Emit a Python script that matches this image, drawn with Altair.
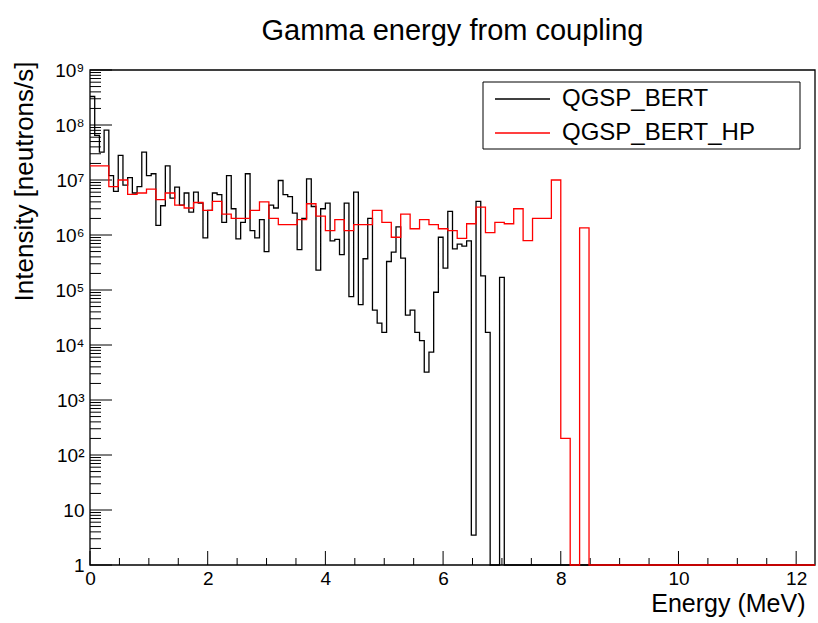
import altair as alt
import pandas as pd

# ---------------- data ----------------
x_range = [0.0, 12.32]
series_names = ["QGSP_BERT", "QGSP_BERT_HP"]
series_colors = ["#000000", "#ff0000"]

bert_bin_width = 0.08
hp_bin_width = 0.16

# QGSP_BERT, bins of 0.08 MeV starting at 0 (remaining bins up to 12.32 MeV are empty)
bert_values = [
    3.3e8, 6.5e7, 3.2e7, 8.1e7, 1.2e7, 6.2e6, 2.8e7, 8.1e6, 1.1e7, 5.8e6,
    7.6e6, 3.2e7, 1.2e7, 1.3e7, 1.5e6, 3.4e6, 1.8e7, 4.7e6, 7.4e6, 3.5e6,
    5.8e6, 2.6e6, 6.0e6, 3.8e6, 8.9e5, 2.8e6, 5.8e6, 5.4e6, 1.7e6, 1.2e7,
    3.0e6, 8.5e5, 1.7e6, 1.3e7, 1.2e6, 8.9e5, 1.9e6, 5.0e5, 3.5e6, 3.1e6,
    9.8e6, 5.4e6, 5.0e6, 2.5e6, 5.4e5, 2.0e6, 1.05e7, 3.3e6, 2.3e5, 3.0e6,
    3.8e6, 7.8e5, 8.3e5, 4.4e5, 3.8e6, 7.6e4, 6.0e6, 5.4e4, 3.7e5, 2.0e6,
    4.3e4, 2.5e4, 1.7e4, 3.3e5, 4.9e5, 1.4e6, 3.8e5, 3.5e4, 4.3e4, 1.7e4,
    1.2e4, 3.2e3, 7.4e3, 9.1e4, 9.1e5, 2.5e5, 2.7e6, 5.6e5, 6.8e5, 6.3e5,
    7.8e5, 3.5, 4.1e6, 1.8e5, 1.7e4, 0, 0, 1.7e5,
]

# QGSP_BERT_HP, bins of 0.16 MeV starting at 0
hp_values = [
    1.8e7, 1.8e7, 7.6e6, 1.0e7, 5.5e6, 5.8e6, 6.8e6, 4.4e6, 5.8e6, 3.5e6,
    3.1e6, 3.9e6, 2.8e6, 4.1e6, 2.4e6, 2.0e6, 2.0e6, 2.8e6, 4.0e6, 2.0e6,
    1.55e6, 1.55e6, 1.9e6, 3.7e6, 2.2e6, 1.2e6, 1.9e6, 1.2e6, 1.55e6, 1.55e6,
    2.8e6, 1.7e6, 9.1e5, 2.4e6, 1.3e6, 1.9e6, 1.55e6, 1.3e6, 1.2e6, 8.7e5,
    1.6e6, 3.2e6, 1.1e6, 1.7e6, 1.6e6, 3.0e6, 7.9e5, 2.0e6, 2.0e6, 1.0e7,
    200, 0, 1.35e6,
]

y_decades = [1, 10, 100, 1e3, 1e4, 1e5, 1e6, 1e7, 1e8, 1e9]
y_minor = [m * d for d in y_decades[:-1] for m in range(2, 10)]
x_major = [0, 2, 4, 6, 8, 10, 12]
x_minor = [i * 0.5 for i in range(0, 25) if (i * 0.5) not in x_major]

title_text = "Gamma energy from coupling"
x_title = "Energy (MeV)"
y_title = "Intensity [neutrons/s]"

# ---------------- build step table ----------------
Y_FLOOR = 1.0  # empty bins are drawn on the bottom of the log axis


def steps(name, values, width):
    n = int(round((x_range[1] - x_range[0]) / width))
    vals = list(values) + [0] * (n - len(values))
    rows = []
    for i, v in enumerate(vals):
        rows.append({"series": name, "x": x_range[0] + i * width, "y": max(v, Y_FLOOR)})
    rows.append({"series": name, "x": x_range[1], "y": max(vals[-1], Y_FLOOR)})
    return rows


df_bert = pd.DataFrame(steps(series_names[0], bert_values, bert_bin_width))
df_hp = pd.DataFrame(steps(series_names[1], hp_values, hp_bin_width))

W, H = 725, 495
FONT = "Liberation Sans"

xscale = alt.Scale(domain=x_range, nice=False, zero=False)
yscale = alt.Scale(type="log", domain=[y_decades[0], y_decades[-1]], nice=False)
cscale = alt.Scale(domain=series_names, range=series_colors)

sup = "['','','\u00b2','\u00b3','\u2074','\u2075','\u2076','\u2077','\u2078','\u2079']"
y_label_expr = ("datum.value < 5 ? '1' : datum.value < 50 ? '10' : '10' + "
                + sup + "[round(log(datum.value)/LN10)]")

x_axis = alt.Axis(values=x_major, format="d", ticks=False, domain=False, grid=False,
                  labelFont=FONT, labelFontSize=19, labelColor="black", labelPadding=4,
                  labelFlush=False, title=x_title, titleFont=FONT, titleFontSize=25,
                  titleFontWeight="normal", titleColor="black", titleAlign="right",
                  titleAnchor="end", titleX=W - 10, titleY=46,
                  titleBaseline="alphabetic")
y_axis = alt.Axis(values=y_decades, labelExpr=y_label_expr, ticks=False, domain=False,
                  grid=False, labelFont=FONT, labelFontSize=19, labelColor="black",
                  labelPadding=6, labelFlush=False, title=y_title, titleFont=FONT,
                  titleFontSize=26, titleFontWeight="normal", titleColor="black",
                  titleAngle=-90, titleAlign="right", titleX=-58, titleY=-9,
                  titleBaseline="alphabetic")


def hist_layer(d):
    return alt.Chart(d).mark_line(interpolate="step-after", strokeWidth=1.3).encode(
        x=alt.X("x:Q", scale=xscale, axis=x_axis),
        y=alt.Y("y:Q", scale=yscale, axis=y_axis),
        color=alt.Color("series:N", scale=cscale, legend=None),
        order=alt.Order("x:Q"),
    )


line_bert = hist_layer(df_bert)
line_hp = hist_layer(df_hp)

# inward ticks (ROOT style)
ymaj = alt.Chart(pd.DataFrame({"v": y_decades})).mark_rule(color="black", strokeWidth=1).encode(
    y=alt.Y("v:Q", scale=yscale, axis=y_axis), x=alt.value(0), x2=alt.value(22))
ymin = alt.Chart(pd.DataFrame({"v": y_minor})).mark_rule(color="black", strokeWidth=1).encode(
    y=alt.Y("v:Q", scale=yscale, axis=y_axis), x=alt.value(0), x2=alt.value(11))
xmaj = alt.Chart(pd.DataFrame({"v": x_major})).mark_rule(color="black", strokeWidth=1).encode(
    x=alt.X("v:Q", scale=xscale, axis=x_axis), y=alt.value(H), y2=alt.value(H - 14))
xmin = alt.Chart(pd.DataFrame({"v": x_minor})).mark_rule(color="black", strokeWidth=1).encode(
    x=alt.X("v:Q", scale=xscale, axis=x_axis), y=alt.value(H), y2=alt.value(H - 7))

# frame
frame = alt.Chart(pd.DataFrame({"a": [0]})).mark_rect(
    fill=None, stroke="black", strokeWidth=1.3).encode(
    x=alt.value(0), x2=alt.value(W), y=alt.value(0), y2=alt.value(H))

# legend box (ROOT TLegend look)
leg_box = alt.Chart(pd.DataFrame({"a": [0]})).mark_rect(
    fill="white", stroke="black", strokeWidth=1).encode(
    x=alt.value(393), x2=alt.value(710), y=alt.value(12), y2=alt.value(79))
leg_df = pd.DataFrame({"series": series_names,
                       "py": [29 + 34 * i for i in range(len(series_names))]})
leg_lines = alt.Chart(leg_df).mark_rule(strokeWidth=1.3).encode(
    x=alt.value(405), x2=alt.value(460), y=alt.Y("py:Q", scale=None),
    color=alt.Color("series:N", scale=cscale, legend=None))
leg_text = alt.Chart(leg_df).mark_text(align="left", baseline="middle", font=FONT,
                                       fontSize=24, color="black").encode(
    x=alt.value(472), y=alt.Y("py:Q", scale=None), text="series:N")

chart = alt.layer(frame, xmin, xmaj, ymin, ymaj, line_bert, line_hp,
                  leg_box, leg_lines, leg_text).properties(
    width=W, height=H,
    title=alt.TitleParams(title_text, font=FONT, fontSize=29, fontWeight="normal",
                          color="black", anchor="middle", offset=15),
    autosize=alt.AutoSizeParams(type="none"),
    padding={"left": 90, "top": 70, "right": 3, "bottom": 58},
).configure(background="white").configure_view(stroke=None)

chart.save("out.html", embed_options={"renderer": "svg", "actions": False})
